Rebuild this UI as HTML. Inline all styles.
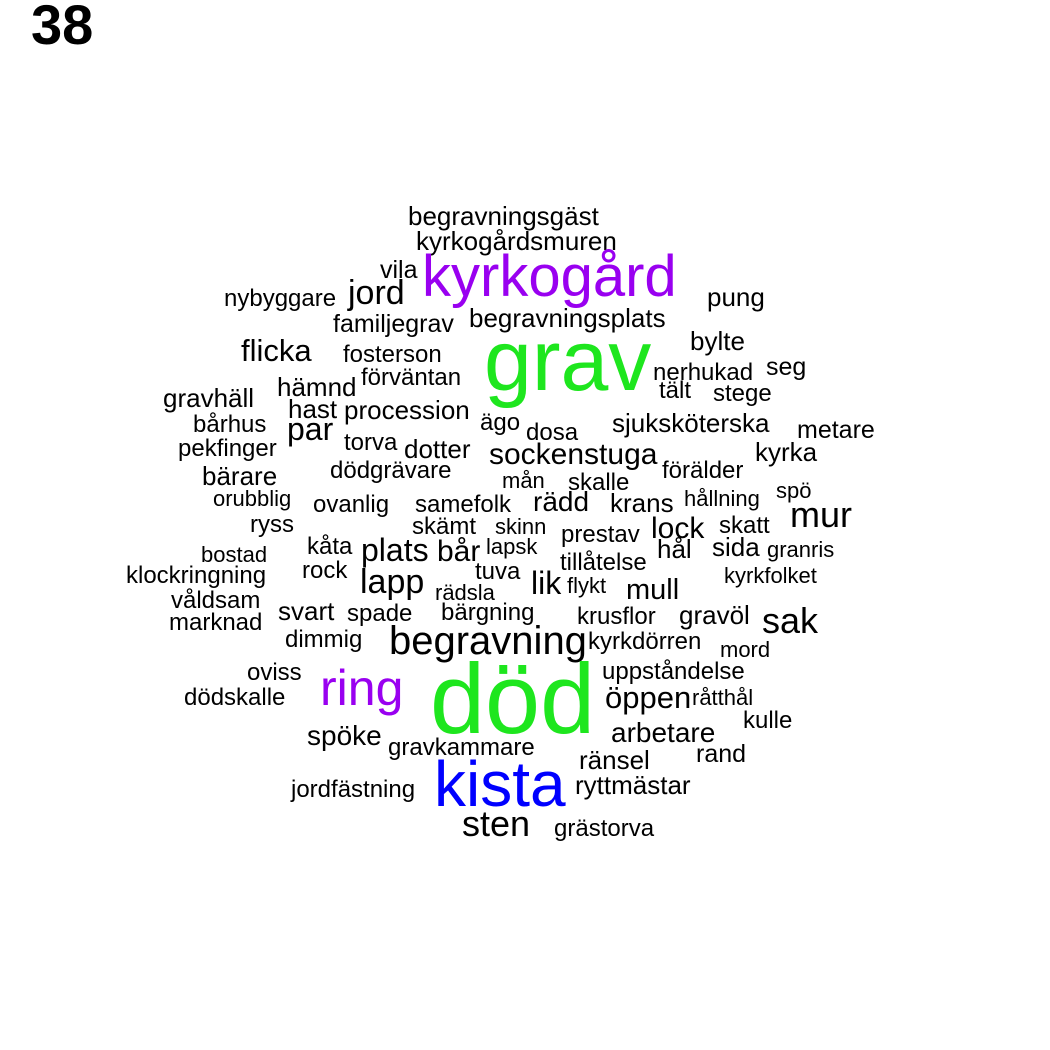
<!DOCTYPE html>
<html><head><meta charset="utf-8"><style>
html,body{margin:0;padding:0;background:#fff;}
svg{display:block;font-family:"Liberation Sans",Arial,sans-serif;}
</style></head><body>
<svg id="cloud" width="1050" height="1050" viewBox="0 0 1050 1050" xmlns="http://www.w3.org/2000/svg">
<rect width="1050" height="1050" fill="#fff"/>
<text x="31" y="44" font-size="56" font-weight="bold" fill="#000">38</text>
<g id="words"></g>
</svg>
<script>
const words = ["begravningsgäst","kyrkogårdsmuren","vila","kyrkogård","jord","nybyggare","pung","familjegrav","begravningsplats","bylte","flicka","fosterson","grav","nerhukad","seg","förväntan","hämnd","tält","stege","gravhäll","hast","procession","ägo","sjuksköterska","bårhus","metare","dosa","par","torva","dotter","pekfinger","kyrka","sockenstuga","förälder","dödgrävare","bärare","mån","skalle","spö","hållning","orubblig","ovanlig","samefolk","rädd","krans","mur","ryss","skämt","skinn","lock","prestav","skatt","kåta","lapsk","plats","bår","sida","granris","hål","bostad","tillåtelse","tuva","rock","klockringning","kyrkfolket","lapp","lik","flykt","mull","rädsla","våldsam","svart","spade","bärgning","krusflor","gravöl","sak","marknad","begravning","dimmig","kyrkdörren","mord","oviss","uppståndelse","ring","död","dödskalle","öppen","råtthål","kulle","spöke","arbetare","gravkammare","rand","ränsel","kista","jordfästning","ryttmästar","sten","grästorva"];
const sizes = [26,26,25,58,34,24,26,25,26,26,31,24,86,24,25,24,26,24,24,26,26,26,24,26,24,25,24,32,24,26,24,26,30,24,24,26,22,24,22,22,22,24,24,28,26,36,24,24,22,30,24,24,24,22,32,30,26,22,26,22,24,24,24,24,22,34,32,22,29,22,24,26,24,24,24,26,36,24,40,24,24,22,24,24,50,99,24,31,22,24,28,28,24,25,26,64,24,26,36,24];
const colors = {"grav":"#1ee61e","död":"#1ee61e","kyrkogård":"#9900f0","ring":"#9900f0","kista":"#0000ff"};
const layout = [[408,225],[416,250],[380,278],[422,296],[348,304],[224,306],[707,306],[333,332],[469,327],[690,350],[241,361],[343,362],[484,390],[653,380],[766,375],[361,385],[277,396],[659,398],[713,401],[163,407],[288,418],[344,419],[480,430],[612,432],[193,432],[797,438],[526,440],[287,440],[344,450],[404,458],[178,456],[755,461],[489,464],[662,478],[330,478],[202,485],[502,488],[568,490],[776,498],[684,506],[213,506],[313,512],[415,512],[533,511],[610,512],[790,527],[250,532],[412,534],[495,534],[651,538],[561,542],[719,533],[307,554],[486,554],[361,561],[437,561],[712,556],[767,557],[657,558],[201,562],[560,570],[475,579],[302,578],[126,583],[724,583],[360,593],[531,594],[567,593],[626,599],[435,600],[171,608],[278,620],[347,621],[441,620],[577,624],[679,624],[762,633],[169,630],[389,654],[285,647],[588,649],[720,657],[247,680],[602,679],[320,705],[430,733],[184,705],[605,708],[692,705],[743,728],[307,745],[611,742],[388,755],[696,762],[579,769],[434,806],[291,797],[575,794],[462,836],[554,836]];
const g = document.getElementById('words');
words.forEach((w,i)=>{
  const t = document.createElementNS('http://www.w3.org/2000/svg','text');
  t.setAttribute('x', layout[i][0]);
  t.setAttribute('y', layout[i][1]);
  t.setAttribute('font-size', sizes[i]);
  t.setAttribute('fill', colors[w] || '#000');
  t.textContent = w;
  
  
  g.appendChild(t);
});
</script>
</body></html>
